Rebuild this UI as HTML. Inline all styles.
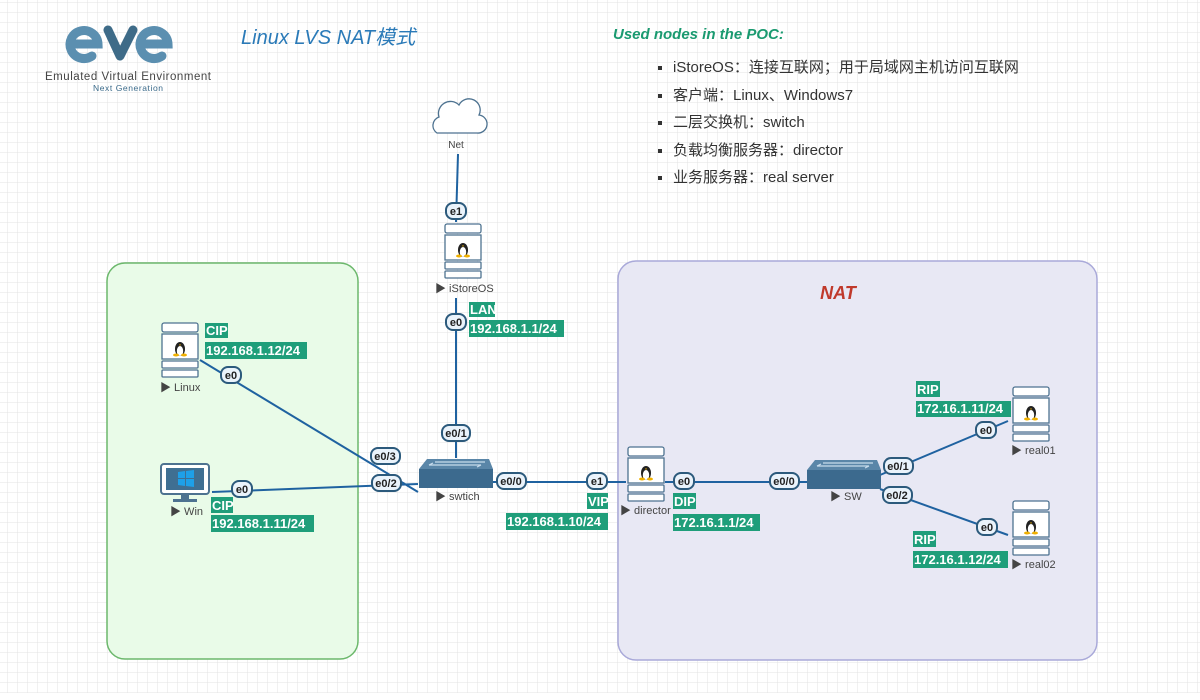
<!DOCTYPE html>
<html><head><meta charset="utf-8"><style>
html,body{margin:0;padding:0;background:#fff;}
svg{display:block;font-family:"Liberation Sans","Noto Sans CJK SC",sans-serif;}
</style></head><body>
<svg width="1200" height="700" viewBox="0 0 1200 700" xmlns="http://www.w3.org/2000/svg">
<defs>
<pattern id="g" x="7" y="2" width="10" height="10" patternUnits="userSpaceOnUse">
<path d="M0 0H10M0 0V10" stroke="#e3e3e3" stroke-width="1" fill="none"/>
</pattern>
<g id="srv">
<rect x="0" y="0" width="36" height="9" rx="2" fill="#fff" stroke="#4d7290" stroke-width="1.3"/>
<rect x="0" y="11" width="36" height="25" fill="#fff" stroke="#4d7290" stroke-width="1.3"/>
<rect x="0" y="38" width="36" height="7" rx="1" fill="#fff" stroke="#4d7290" stroke-width="1.3"/>
<rect x="0" y="47" width="36" height="7" rx="1" fill="#fff" stroke="#4d7290" stroke-width="1.3"/>
<ellipse cx="18" cy="26" rx="5" ry="7" fill="#222"/>
<ellipse cx="18" cy="28" rx="3.2" ry="5" fill="#fff"/>
<ellipse cx="14" cy="32" rx="3" ry="1.5" fill="#f0b000"/>
<ellipse cx="22" cy="32" rx="3" ry="1.5" fill="#f0b000"/>
<path d="M17 21.5h2l-1 1.5z" fill="#f0b000"/>
</g>
<g id="sw">
<path d="M0 10 L8 0 H70 L74 10 Z" fill="#5a86a8"/>
<rect x="0" y="10" width="74" height="19" fill="#3c6a8e"/>
<path d="M10 6 H62 M16 3 H66 M10 6 l4 -2 M62 6 l-4 2" stroke="#c8dcec" stroke-width="1.2" fill="none"/>
</g>
</defs>
<rect width="1200" height="700" fill="#fff"/>
<rect x="0" y="0" width="1200" height="693" fill="url(#g)"/>

<!-- zones -->
<rect x="107" y="263" width="251" height="396" rx="18" fill="#e9fbe8" stroke="#6cb86c" stroke-width="1.5"/>
<rect x="618" y="261" width="479" height="399" rx="18" fill="#e8e8f4" stroke="#a9a9d9" stroke-width="1.5"/>
<text x="838" y="299" font-size="18" font-weight="bold" font-style="italic" fill="#c0392b" text-anchor="middle">NAT</text>

<!-- logo -->
<g fill="none" stroke="#5b8fb0" stroke-width="9" stroke-linecap="round">
<path d="M72 44 H98 A14 14 0 1 0 92 56"/>
<path d="M142 44 H168 A14 14 0 1 0 162 56"/>
</g>
<path d="M108 30 L120 56 L133 30" fill="none" stroke="#3e6b88" stroke-width="9" stroke-linecap="round" stroke-linejoin="round"/>
<text x="45" y="80" font-size="11.5" fill="#444" textLength="166">Emulated Virtual Environment</text>
<text x="93" y="91" font-size="8.5" fill="#3a6a8a" textLength="70">Next Generation</text>

<text x="241" y="44" font-size="20" font-style="italic" fill="#2a7ab8">Linux LVS NAT模式</text>

<text x="613" y="39" font-size="15" font-weight="bold" font-style="italic" fill="#1a9a70">Used nodes in the POC:</text>
<g font-size="15" fill="#333">
<rect x="658" y="66" width="4" height="4" fill="#333"/><text x="673" y="72">iStoreOS：连接互联网；用于局域网主机访问互联网</text>
<rect x="658" y="94" width="4" height="4" fill="#333"/><text x="673" y="100">客户端：Linux、Windows7</text>
<rect x="658" y="121" width="4" height="4" fill="#333"/><text x="673" y="127">二层交换机：switch</text>
<rect x="658" y="149" width="4" height="4" fill="#333"/><text x="673" y="155">负载均衡服务器：director</text>
<rect x="658" y="176" width="4" height="4" fill="#333"/><text x="673" y="182">业务服务器：real server</text>
</g>

<!-- links -->
<g stroke="#1f62a0" stroke-width="2" fill="none">
<path d="M458 154 L456 222"/>
<path d="M456 298 L456 458"/>
<path d="M200 360 L418 492"/>
<path d="M212 492 L418 484"/>
<path d="M492 482 L626 482"/>
<path d="M665 482 L808 482"/>
<path d="M880 475 L1008 421"/>
<path d="M880 489 L1008 535"/>
</g>

<!-- cloud -->
<path d="M437 133 a9 9 0 0 1 2 -16 a12 12 0 0 1 20 -12 a11 11 0 0 1 20 10 a9 9 0 0 1 -2 18 Z" fill="#fff" stroke="#4d7290" stroke-width="1.3"/>
<text x="456" y="148" font-size="10" fill="#444" text-anchor="middle">Net</text>

<!-- nodes -->
<use href="#srv" x="445" y="224"/>
<text x="435" y="292" font-size="11" fill="#444">▶ iStoreOS</text>
<use href="#srv" x="162" y="323"/>
<text x="160" y="391" font-size="11" fill="#444">▶ Linux</text>
<use href="#srv" x="628" y="447"/>
<text x="620" y="514" font-size="11" fill="#444">▶ director</text>
<use href="#srv" x="1013" y="387"/>
<text x="1011" y="454" font-size="11" fill="#444">▶ real01</text>
<use href="#srv" x="1013" y="501"/>
<text x="1011" y="568" font-size="11" fill="#444">▶ real02</text>

<!-- win -->
<rect x="161" y="464" width="48" height="30" rx="3" fill="#fff" stroke="#4d7290" stroke-width="2"/>
<rect x="166" y="468" width="38" height="22" fill="#3f6f92"/>
<path d="M178 472 l7 -1 v7 h-7z M186 471 l8 -1 v8 h-8z M178 479 h7 v7 l-7 -1z M186 479 h8 v8 l-8 -1z" fill="#1ea0e8"/>
<rect x="181" y="494" width="8" height="5" fill="#4d7290"/>
<rect x="173" y="499" width="24" height="3" fill="#4d7290"/>
<text x="170" y="515" font-size="11" fill="#444">▶ Win</text>

<!-- switches -->
<use href="#sw" x="419" y="459"/>
<text x="435" y="500" font-size="11" fill="#444">▶ swtich</text>
<use href="#sw" x="807" y="460"/>
<text x="830" y="500" font-size="11" fill="#444">▶ SW</text>

<!-- badges -->
<g font-size="11" font-weight="bold" fill="#222" text-anchor="middle">
<g stroke="#2c5a7c" stroke-width="2" fill="#eaf3fb">
<rect x="446" y="203" width="20" height="16" rx="7"/>
<rect x="446" y="314" width="20" height="16" rx="7"/>
<rect x="442" y="425" width="28" height="16" rx="7"/>
<rect x="221" y="367" width="20" height="16" rx="7"/>
<rect x="371" y="448" width="29" height="16" rx="7"/>
<rect x="232" y="481" width="20" height="16" rx="7"/>
<rect x="372" y="475" width="29" height="16" rx="7"/>
<rect x="497" y="473" width="29" height="16" rx="7"/>
<rect x="587" y="473" width="20" height="16" rx="7"/>
<rect x="674" y="473" width="20" height="16" rx="7"/>
<rect x="770" y="473" width="29" height="16" rx="7"/>
<rect x="884" y="458" width="29" height="16" rx="7"/>
<rect x="883" y="487" width="29" height="16" rx="7"/>
<rect x="976" y="422" width="20" height="16" rx="7"/>
<rect x="977" y="519" width="20" height="16" rx="7"/>
</g>
<text x="456" y="215">e1</text>
<text x="456" y="326">e0</text>
<text x="456" y="437">e0/1</text>
<text x="231" y="379">e0</text>
<text x="385" y="460">e0/3</text>
<text x="242" y="493">e0</text>
<text x="386" y="487">e0/2</text>
<text x="511" y="485">e0/0</text>
<text x="597" y="485">e1</text>
<text x="684" y="485">e0</text>
<text x="784" y="485">e0/0</text>
<text x="898" y="470">e0/1</text>
<text x="897" y="499">e0/2</text>
<text x="986" y="434">e0</text>
<text x="987" y="531">e0</text>
</g>

<!-- ip labels -->
<g fill="#1f9e7a">
<rect x="469" y="302" width="26" height="15"/><rect x="469" y="320" width="95" height="17"/>
<rect x="205" y="323" width="23" height="15"/><rect x="205" y="342" width="102" height="17"/>
<rect x="211" y="497" width="22" height="16"/><rect x="211" y="515" width="103" height="17"/>
<rect x="587" y="493" width="21" height="16"/><rect x="506" y="513" width="102" height="17"/>
<rect x="673" y="493" width="23" height="16"/><rect x="673" y="514" width="87" height="17"/>
<rect x="916" y="381" width="24" height="16"/><rect x="916" y="401" width="95" height="16"/>
<rect x="913" y="531" width="23" height="16"/><rect x="913" y="551" width="95" height="17"/>
</g>
<g font-size="13" font-weight="bold" fill="#fff">
<text x="470" y="314">LAN</text><text x="470" y="333">192.168.1.1/24</text>
<text x="206" y="335">CIP</text><text x="206" y="355">192.168.1.12/24</text>
<text x="212" y="510">CIP</text><text x="212" y="528">192.168.1.11/24</text>
<text x="588" y="506">VIP</text><text x="507" y="526">192.168.1.10/24</text>
<text x="674" y="506">DIP</text><text x="674" y="527">172.16.1.1/24</text>
<text x="917" y="394">RIP</text><text x="917" y="413">172.16.1.11/24</text>
<text x="914" y="544">RIP</text><text x="914" y="564">172.16.1.12/24</text>
</g>
</svg>
</body></html>
